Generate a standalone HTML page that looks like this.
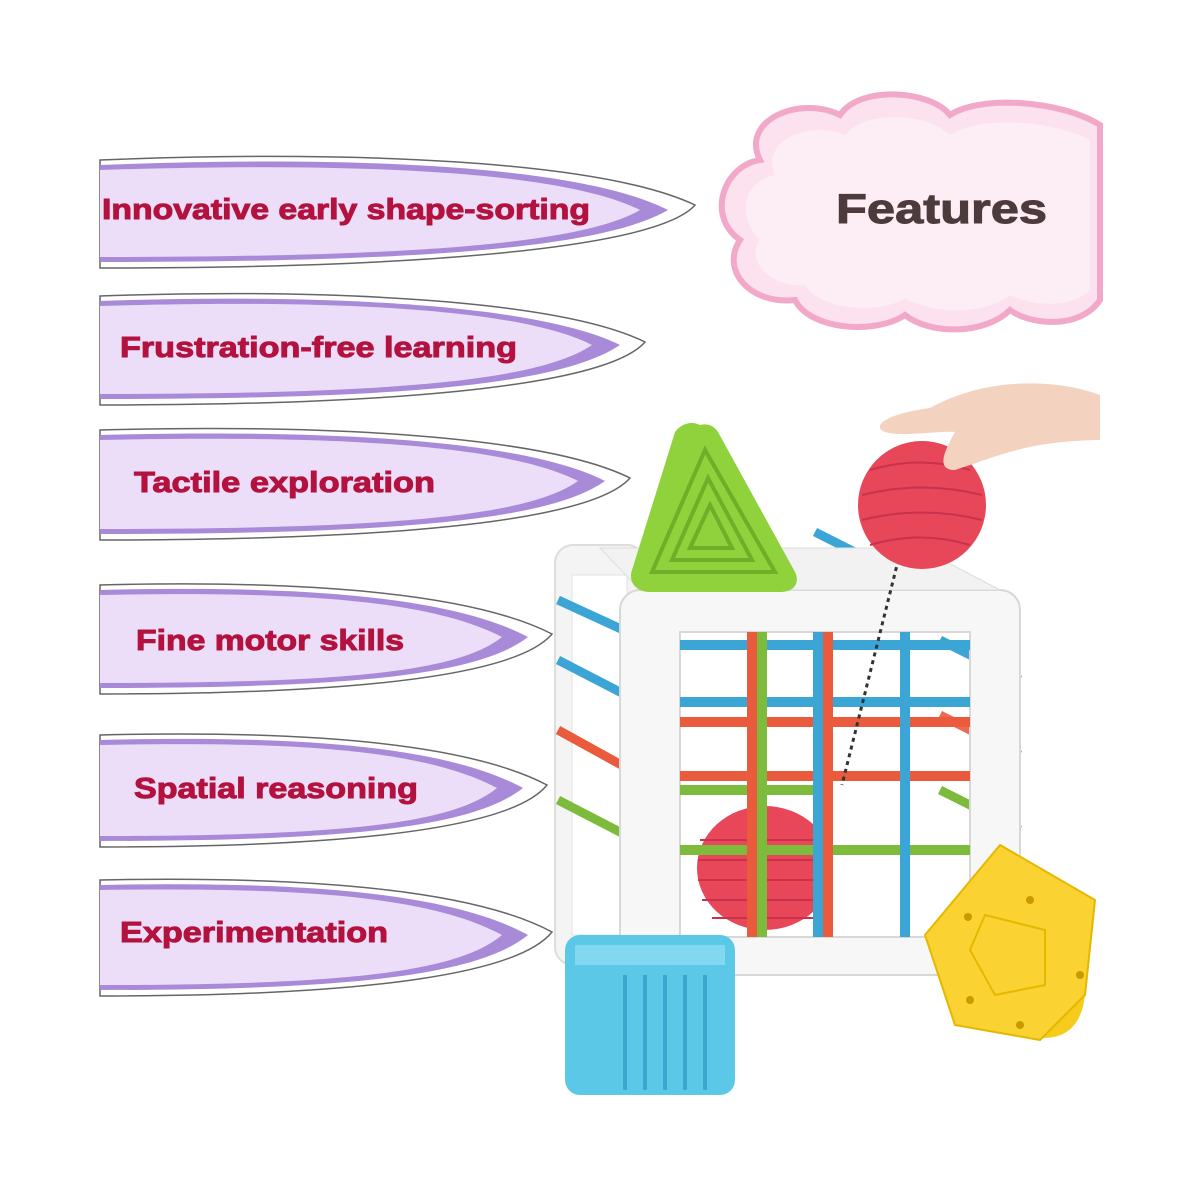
<!DOCTYPE html>
<html><head><style>
html,body{margin:0;padding:0;background:#fff;}
svg{display:block}
text{font-family:"Liberation Sans",Arial,sans-serif;font-weight:bold;}
</style></head><body>
<svg width="1200" height="1200" viewBox="0 0 1200 1200" xmlns="http://www.w3.org/2000/svg">
<rect width="1200" height="1200" fill="#fff"/>
<!-- cloud -->
<g>
<path d="M760,160 C740,120 800,95 840,115 C860,85 930,90 950,115 C980,95 1060,100 1100,125 L1100,300 C1080,330 1030,325 1010,310 C985,335 930,335 905,315 C875,335 810,330 795,300 C750,305 720,270 740,240 C705,215 725,165 760,160 Z" fill="#fbe2ee" stroke="#f2a8c8" stroke-width="6"/>
<path d="M775,175 C760,140 810,120 845,135 C865,110 925,112 950,135 C980,115 1050,120 1090,140 L1090,290 C1070,310 1030,305 1010,295 C985,315 935,315 905,298 C880,315 820,310 805,285 C770,288 745,260 760,240 C735,215 745,180 775,175 Z" fill="#fdeef5"/>
<text x="836" y="223" font-size="42" fill="#4d3a3d" stroke="#4d3a3d" stroke-width="1" textLength="211" lengthAdjust="spacingAndGlyphs">Features</text>
</g>
<!-- banners -->
<g id="banners" >
<g>
<path d="M100,160 C350,150 600,160 695,205 C660,245 450,268 100,268 Z" fill="#fff" stroke="#666" stroke-width="1.5"/>
<path d="M100,165 C350,155 580,165 668,210 C600,250 400,262 100,262 Z" fill="#a98ad9"/>
<path d="M100,170 C350,162 560,170 640,210 C580,245 400,257 100,257 Z" fill="#ecdef8"/>
<text x="102" y="219" font-size="29" fill="#b3123f" stroke="#b3123f" stroke-width="1" textLength="488" lengthAdjust="spacingAndGlyphs">Innovative early shape-sorting</text>
</g>
<g>
<path d="M100,296 C330,288 560,300 645,342 C610,382 430,405 100,405 Z" fill="#fff" stroke="#666" stroke-width="1.5"/>
<path d="M100,301 C330,293 540,305 620,345 C560,385 400,399 100,399 Z" fill="#a98ad9"/>
<path d="M100,306 C330,299 520,308 592,345 C540,380 400,394 100,394 Z" fill="#ecdef8"/>
<text x="120" y="357" font-size="29" fill="#b3123f" stroke="#b3123f" stroke-width="1" textLength="397" lengthAdjust="spacingAndGlyphs">Frustration-free learning</text>
</g>
<g>
<path d="M100,430 C330,424 545,436 630,478 C595,518 420,540 100,540 Z" fill="#fff" stroke="#666" stroke-width="1.5"/>
<path d="M100,435 C330,429 525,440 605,481 C550,520 400,534 100,534 Z" fill="#a98ad9"/>
<path d="M100,440 C330,435 505,444 578,481 C530,515 400,529 100,529 Z" fill="#ecdef8"/>
<text x="134" y="492" font-size="29" fill="#b3123f" stroke="#b3123f" stroke-width="1" textLength="301" lengthAdjust="spacingAndGlyphs">Tactile exploration</text>
</g>
<g>
<path d="M100,585 C300,580 470,592 552,634 C520,672 380,694 100,694 Z" fill="#fff" stroke="#666" stroke-width="1.5"/>
<path d="M100,590 C300,585 450,596 528,637 C480,674 360,688 100,688 Z" fill="#a98ad9"/>
<path d="M100,595 C300,591 430,600 502,637 C460,670 360,683 100,683 Z" fill="#ecdef8"/>
<text x="136" y="650" font-size="29" fill="#b3123f" stroke="#b3123f" stroke-width="1" textLength="268" lengthAdjust="spacingAndGlyphs">Fine motor skills</text>
</g>
<g>
<path d="M100,735 C300,730 465,742 547,785 C515,825 375,847 100,847 Z" fill="#fff" stroke="#666" stroke-width="1.5"/>
<path d="M100,740 C300,735 445,746 523,788 C475,826 355,841 100,841 Z" fill="#a98ad9"/>
<path d="M100,745 C300,741 425,750 497,788 C455,822 355,836 100,836 Z" fill="#ecdef8"/>
<text x="134" y="798" font-size="29" fill="#b3123f" stroke="#b3123f" stroke-width="1" textLength="284" lengthAdjust="spacingAndGlyphs">Spatial reasoning</text>
</g>
<g>
<path d="M100,880 C300,876 470,888 552,932 C520,972 380,996 100,996 Z" fill="#fff" stroke="#666" stroke-width="1.5"/>
<path d="M100,885 C300,881 450,892 528,935 C480,974 360,990 100,990 Z" fill="#a98ad9"/>
<path d="M100,890 C300,887 430,896 502,935 C460,970 360,985 100,985 Z" fill="#ecdef8"/>
<text x="120" y="942" font-size="29" fill="#b3123f" stroke="#b3123f" stroke-width="1" textLength="268" lengthAdjust="spacingAndGlyphs">Experimentation</text>
</g>
</g>
<!-- cube back frame -->
<g>
<rect x="555" y="545" width="90" height="420" rx="18" fill="#f4f4f4" stroke="#ddd" stroke-width="2"/>
<rect x="572" y="575" width="55" height="360" fill="#fff" stroke="#e2e2e2"/>
<g stroke-width="9" stroke-linecap="butt">
<line x1="558" y1="600" x2="645" y2="640" stroke="#3ba6d6"/>
<line x1="558" y1="660" x2="645" y2="705" stroke="#3ba6d6"/>
<line x1="558" y1="730" x2="645" y2="778" stroke="#ea5a3c"/>
<line x1="558" y1="800" x2="645" y2="845" stroke="#7dbb3c"/>
<line x1="940" y1="640" x2="1020" y2="680" stroke="#3ba6d6"/>
<line x1="940" y1="715" x2="1020" y2="755" stroke="#ea6a55"/>
<line x1="940" y1="790" x2="1020" y2="830" stroke="#7dbb3c"/>
<line x1="815" y1="532" x2="900" y2="575" stroke="#3ba6d6"/>
<line x1="805" y1="565" x2="835" y2="585" stroke="#ea5a3c"/>
</g>
<path d="M640,590 h360 a20,20 0 0 1 20,20 v345 a20,20 0 0 1 -20,20 h-360 a20,20 0 0 1 -20,-20 v-345 a20,20 0 0 1 20,-20 Z M680,632 v305 h290 v-305 Z" fill="#f7f7f7" stroke="#d8d8d8" stroke-width="2" fill-rule="evenodd"/>
<path d="M600,548 h320 l80,42 h-360 Z" fill="#f2f2f2" stroke="#ddd"/>
<ellipse cx="765" cy="868" rx="68" ry="62" fill="#e8475a"/>
<g stroke="#c9324a" stroke-width="2" fill="none">
<path d="M700,840 h130 M698,860 h135 M698,880 h135 M702,900 h126 M712,918 h105"/>
</g>
<g stroke-width="10">
<line x1="680" y1="645" x2="970" y2="645" stroke="#3ba6d6"/>
<line x1="680" y1="702" x2="970" y2="702" stroke="#3ba6d6"/>
<line x1="680" y1="722" x2="970" y2="722" stroke="#ea5a3c"/>
<line x1="680" y1="776" x2="970" y2="776" stroke="#ea5a3c"/>
<line x1="680" y1="790" x2="830" y2="790" stroke="#7dbb3c"/>
<line x1="680" y1="850" x2="970" y2="850" stroke="#7dbb3c"/>
<line x1="752" y1="632" x2="752" y2="937" stroke="#ea5a3c"/>
<line x1="762" y1="632" x2="762" y2="937" stroke="#7dbb3c"/>
<line x1="818" y1="632" x2="818" y2="937" stroke="#3ba6d6"/>
<line x1="828" y1="632" x2="828" y2="937" stroke="#ea5a3c"/>
<line x1="905" y1="632" x2="905" y2="937" stroke="#3ba6d6"/>
</g>
<line x1="912" y1="505" x2="842" y2="785" stroke="#333" stroke-width="3" stroke-dasharray="4,4"/>
<path d="M700,425 C690,420 680,425 675,432 L632,570 C628,582 636,592 650,592 L780,592 C795,592 800,582 795,572 L718,432 C714,426 708,423 700,425 Z" fill="#8fd23c"/>
<g fill="none" stroke="#6eae28" stroke-width="4">
<path d="M705,450 L652,572 L775,572 Z"/>
<path d="M708,478 L672,560 L752,560 Z"/>
<path d="M710,505 L690,548 L732,548 Z"/>
</g>
<circle cx="922" cy="505" r="64" fill="#e8475a"/>
<g stroke="#c9324a" stroke-width="2" fill="none">
<path d="M870,470 q50,-15 100,0 M862,495 q60,-15 120,0 M862,520 q60,-15 120,0 M870,545 q50,-15 100,0"/>
</g>
<path d="M1100,395 C1060,380 990,375 930,408 C900,412 878,420 880,428 C885,440 940,430 955,432 C945,450 935,470 955,470 C985,460 1010,450 1040,445 C1070,440 1100,440 1100,440 Z" fill="#f3d2bf"/>
<path d="M580,935 h140 a15,15 0 0 1 15,15 v130 a15,15 0 0 1 -15,15 h-140 a15,15 0 0 1 -15,-15 v-130 a15,15 0 0 1 15,-15 Z" fill="#5cc8e8"/>
<path d="M575,945 h150 v20 h-150 Z" fill="#82d8f0"/>
<g stroke="#3aa8cc" stroke-width="4">
<line x1="625" y1="975" x2="625" y2="1090"/><line x1="645" y1="975" x2="645" y2="1090"/><line x1="665" y1="975" x2="665" y2="1090"/><line x1="685" y1="975" x2="685" y2="1090"/><line x1="705" y1="975" x2="705" y2="1090"/>
</g>
<path d="M1000,845 L1095,900 L1085,995 Q1080,1040 1040,1038 L955,1025 L925,935 Z" fill="#f6cc1c"/>
<path d="M1000,845 L1095,900 L1085,995 L1040,1040 L955,1025 L925,935 Z" fill="#fad232" stroke="#e5b800" stroke-width="2"/>
<path d="M985,915 L1045,930 L1045,985 L995,995 L970,950 Z" fill="none" stroke="#e5b800" stroke-width="2"/>
<g fill="#c99a00"><circle cx="968" cy="917" r="4"/><circle cx="1030" cy="900" r="4"/><circle cx="970" cy="1000" r="4"/><circle cx="1080" cy="975" r="4"/><circle cx="1020" cy="1025" r="4"/></g>
</g>
</svg>
</body></html>
